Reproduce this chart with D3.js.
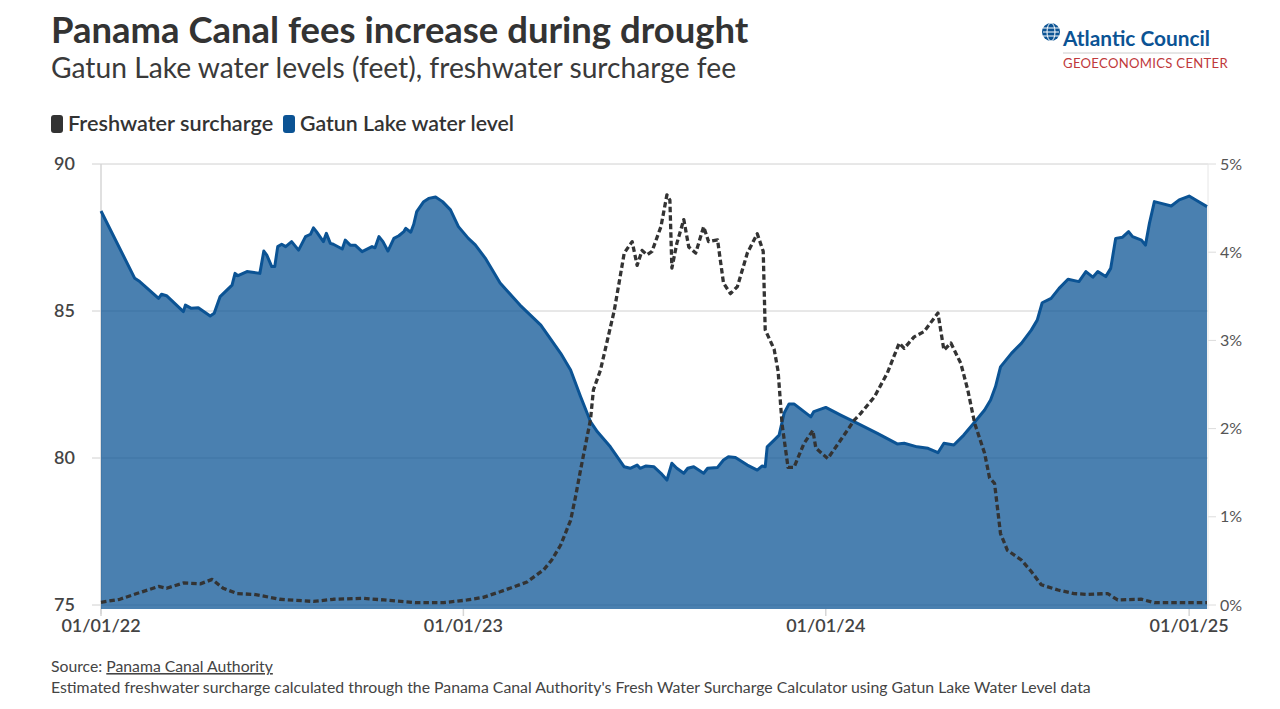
<!DOCTYPE html>
<html><head><meta charset="utf-8">
<script src="https://cdn.jsdelivr.net/npm/d3@7"></script>
<style>
body{margin:0;background:#fff;}
svg{display:block;font-family:Lato,"Open Sans",sans-serif;}
</style></head><body>
<svg id="c" width="1280" height="709"></svg>
<script>
const lakeDates = ["2022-01-01","2022-02-04","2022-02-09","2022-02-28","2022-03-03","2022-03-08","2022-03-25","2022-03-27","2022-04-02","2022-04-09","2022-04-21","2022-04-25","2022-05-01","2022-05-13","2022-05-16","2022-05-19","2022-05-28","2022-06-10","2022-06-14","2022-06-17","2022-06-22","2022-06-25","2022-06-28","2022-07-02","2022-07-06","2022-07-12","2022-07-19","2022-07-26","2022-07-31","2022-08-03","2022-08-06","2022-08-13","2022-08-16","2022-08-20","2022-08-23","2022-09-01","2022-09-04","2022-09-09","2022-09-14","2022-09-21","2022-10-01","2022-10-04","2022-10-08","2022-10-12","2022-10-17","2022-10-23","2022-10-28","2022-11-02","2022-11-04","2022-11-09","2022-11-12","2022-11-15","2022-11-22","2022-11-27","2022-12-04","2022-12-11","2022-12-19","2022-12-27","2023-01-06","2023-01-13","2023-01-23","2023-02-07","2023-02-27","2023-03-20","2023-04-09","2023-04-19","2023-04-29","2023-05-09","2023-05-16","2023-05-29","2023-06-12","2023-06-18","2023-06-25","2023-06-28","2023-07-04","2023-07-12","2023-07-19","2023-07-25","2023-07-30","2023-08-04","2023-08-11","2023-08-15","2023-08-21","2023-08-31","2023-09-04","2023-09-14","2023-09-20","2023-09-25","2023-10-02","2023-10-14","2023-10-24","2023-10-29","2023-11-01","2023-11-03","2023-11-10","2023-11-15","2023-11-20","2023-11-25","2023-11-30","2023-12-17","2023-12-20","2024-01-01","2024-01-16","2024-02-02","2024-02-22","2024-03-13","2024-03-20","2024-04-02","2024-04-13","2024-04-23","2024-04-29","2024-05-09","2024-05-19","2024-05-29","2024-06-09","2024-06-15","2024-06-20","2024-06-25","2024-07-06","2024-07-16","2024-07-26","2024-08-01","2024-08-06","2024-08-15","2024-08-23","2024-09-01","2024-09-12","2024-09-19","2024-09-26","2024-10-01","2024-10-09","2024-10-14","2024-10-19","2024-10-26","2024-11-01","2024-11-05","2024-11-14","2024-11-18","2024-11-22","2024-11-27","2024-12-04","2024-12-14","2024-12-22","2025-01-01","2025-01-09","2025-01-19"];
const lakeLevels = [88.4,86.11,86.0,85.43,85.57,85.52,84.98,85.2,85.09,85.11,84.83,84.92,85.49,85.88,86.28,86.2,86.34,86.28,87.04,86.9,86.51,86.51,87.19,87.27,87.19,87.36,87.07,87.53,87.61,87.83,87.7,87.36,87.64,87.3,87.27,87.11,87.41,87.24,87.24,87.02,87.19,87.15,87.53,87.36,87.04,87.47,87.56,87.7,87.81,87.68,87.95,88.38,88.72,88.83,88.88,88.72,88.44,87.87,87.47,87.25,86.8,85.95,85.2,84.52,83.56,82.99,82.09,81.24,80.89,80.38,79.7,79.65,79.76,79.65,79.73,79.7,79.48,79.25,79.82,79.65,79.48,79.65,79.7,79.48,79.65,79.68,79.93,80.04,80.02,79.76,79.59,79.73,79.7,80.38,80.61,80.78,81.52,81.84,81.84,81.4,81.58,81.72,81.46,81.18,80.84,80.48,80.5,80.38,80.33,80.18,80.5,80.44,80.78,81.18,81.63,81.97,82.43,83.1,83.56,83.9,84.35,84.69,85.28,85.43,85.77,86.08,86.0,86.34,86.15,86.34,86.17,86.45,87.47,87.51,87.7,87.53,87.41,87.24,87.98,88.72,88.66,88.57,88.78,88.91,88.75,88.55];

const feeDates = ["2022-01-01","2022-01-20","2022-02-06","2022-02-28","2022-03-08","2022-03-25","2022-04-11","2022-04-23","2022-05-04","2022-05-18","2022-06-04","2022-06-14","2022-06-30","2022-08-03","2022-08-23","2022-09-22","2022-10-13","2022-11-15","2022-12-12","2023-01-05","2023-01-21","2023-02-07","2023-03-06","2023-03-23","2023-03-31","2023-04-09","2023-04-19","2023-04-24","2023-04-29","2023-05-09","2023-05-12","2023-05-19","2023-06-02","2023-06-12","2023-06-20","2023-06-25","2023-06-30","2023-07-05","2023-07-10","2023-07-19","2023-07-25","2023-07-28","2023-07-30","2023-08-04","2023-08-11","2023-08-16","2023-08-23","2023-08-31","2023-09-05","2023-09-14","2023-09-20","2023-09-27","2023-10-04","2023-10-14","2023-10-24","2023-10-30","2023-11-01","2023-11-10","2023-11-14","2023-11-18","2023-11-24","2023-11-30","2023-12-10","2023-12-19","2023-12-22","2024-01-03","2024-01-16","2024-01-30","2024-02-05","2024-02-19","2024-03-03","2024-03-15","2024-03-20","2024-03-30","2024-04-09","2024-04-23","2024-04-29","2024-05-06","2024-05-16","2024-05-23","2024-05-30","2024-06-09","2024-06-14","2024-06-19","2024-06-25","2024-07-02","2024-07-16","2024-07-26","2024-08-05","2024-08-22","2024-09-07","2024-09-21","2024-10-11","2024-10-21","2024-11-14","2024-11-27","2025-01-19"];
const feeValues = [0.03,0.065,0.13,0.21,0.19,0.25,0.24,0.29,0.19,0.13,0.12,0.10,0.065,0.04,0.065,0.076,0.057,0.026,0.026,0.057,0.087,0.15,0.26,0.40,0.51,0.68,0.96,1.23,1.53,2.10,2.44,2.66,3.34,3.99,4.12,3.85,4.02,3.97,4.01,4.29,4.65,4.59,3.82,4.10,4.37,4.06,3.99,4.29,4.12,4.14,3.65,3.53,3.61,3.99,4.21,4.01,3.12,2.90,2.65,2.05,1.56,1.56,1.83,1.98,1.78,1.66,1.87,2.10,2.17,2.36,2.63,2.97,2.91,3.04,3.10,3.31,2.89,2.97,2.74,2.44,2.06,1.72,1.44,1.38,0.81,0.62,0.51,0.38,0.23,0.17,0.13,0.12,0.13,0.057,0.065,0.026,0.026];

const leftTicks = [75,80,85,90];
const rightTicks = [0,1,2,3,4,5];
const xTickDates = ["2022-01-01","2023-01-01","2024-01-01","2025-01-01"];
const xTickLabels = ["01/01/22","01/01/23","01/01/24","01/01/25"];
const legendItems = ["Freshwater surcharge","Gatun Lake water level"];

const parse = d3.timeParse("%Y-%m-%d");
const lake = lakeDates.map((d,i)=>({date:parse(d), v:lakeLevels[i]}));
const fee = feeDates.map((d,i)=>({date:parse(d), v:feeValues[i]}));

const svg = d3.select("#c");
const L=101, R=1208, T=164, B=605, AB=609;
const x = d3.scaleTime().domain([parse("2022-01-01"), parse("2025-01-20")]).range([L,R]);
const y = d3.scaleLinear().domain([75,90]).range([B,T]);
const y2 = d3.scaleLinear().domain([0,5]).range([B,T]);

const BLUE="#0b5394", DARK="#333333";

function fit(sel, w){
  const n = sel.node(); let fs = parseFloat(sel.attr("font-size"));
  for(let k=0;k<3;k++){ const cw=n.getComputedTextLength(); fs = fs*w/cw; sel.attr("font-size",fs); }
}

// gridlines
svg.append("g").selectAll("line").data(leftTicks).join("line")
  .attr("x1",L-9).attr("x2",R).attr("y1",d=>y(d)).attr("y2",d=>y(d))
  .attr("stroke","#d0d0d0").attr("stroke-width",1);
svg.append("g").selectAll("line").data(rightTicks).join("line")
  .attr("x1",R).attr("x2",R+8).attr("y1",d=>y2(d)).attr("y2",d=>y2(d))
  .attr("stroke","#dcdcdc").attr("stroke-width",1);
svg.append("line").attr("x1",L).attr("x2",L).attr("y1",T).attr("y2",AB+5).attr("stroke","#d6d6d6").attr("stroke-width",1.5);
svg.append("line").attr("x1",R).attr("x2",R).attr("y1",T).attr("y2",AB).attr("stroke","#e6e6e6").attr("stroke-width",1);

// area
const area = d3.area().x(d=>x(d.date)).y0(AB).y1(d=>y(d.v));
svg.append("path").datum(lake).attr("d",area).attr("fill",BLUE).attr("fill-opacity",0.74);
const line = d3.line().x(d=>x(d.date)).y(d=>y(d.v));
svg.append("path").datum(lake).attr("d",line).attr("fill","none").attr("stroke",BLUE).attr("stroke-width",3).attr("stroke-linejoin","round");

// x ticks
svg.append("g").selectAll("line").data(xTickDates).join("line")
  .attr("x1",d=>x(parse(d))).attr("x2",d=>x(parse(d))).attr("y1",AB).attr("y2",AB+7)
  .attr("stroke","#d6d6d6").attr("stroke-width",1.5);

// fee line
const line2 = d3.line().x(d=>x(d.date)).y(d=>y2(d.v));
svg.append("path").datum(fee).attr("d",line2).attr("fill","none").attr("stroke",DARK)
  .attr("stroke-width",3.3).attr("stroke-dasharray","5.5,3").attr("stroke-linejoin","round");

// axis labels
svg.append("g").selectAll("text").data(leftTicks).join("text")
  .attr("x",L-26).attr("y",d=>y(d)).attr("dy","0.35em").attr("text-anchor","end")
  .attr("font-size",18).attr("font-weight",600).attr("fill","#444").text(d=>d);
svg.append("g").selectAll("text").data(rightTicks).join("text")
  .attr("x",R+12).attr("y",d=>y2(d)).attr("dy","0.35em").attr("text-anchor","start")
  .attr("font-size",16).attr("fill","#555").text(d=>d+"%");
svg.append("g").selectAll("text").data(xTickDates).join("text")
  .attr("x",d=>x(parse(d))).attr("y",632).attr("text-anchor","middle")
  .attr("font-size",18).attr("font-weight",600).attr("fill","#444").text((d,i)=>xTickLabels[i]);

// title
const t1 = svg.append("text").attr("x",51).attr("y",43).attr("font-size",31).attr("font-weight",700).attr("fill","#333").text("Panama Canal fees increase during drought");
fit(t1,697);
const t2 = svg.append("text").attr("x",51).attr("y",78).attr("font-size",24).attr("fill","#3a3a3a").text("Gatun Lake water levels (feet), freshwater surcharge fee");
fit(t2,685);

// legend
const lg = [{c:DARK,x:51,w:205},{c:BLUE,x:283,w:214}];
lg.forEach((o,i)=>{
  svg.append("rect").attr("x",o.x).attr("y",115).attr("width",12).attr("height",18).attr("rx",3).attr("fill",o.c);
  const t = svg.append("text").attr("x",o.x+17).attr("y",131).attr("font-size",18).attr("font-weight",600).attr("fill","#333").text(legendItems[i]);
  fit(t,o.w);
});

// logo
const g = svg.append("g");
g.append("circle").attr("cx",1051).attr("cy",32).attr("r",9).attr("fill",BLUE);
[-4,0,4].forEach(dy=>g.append("line").attr("x1",1043).attr("x2",1059).attr("y1",32+dy).attr("y2",32+dy).attr("stroke","#fff").attr("stroke-width",1));
g.append("ellipse").attr("cx",1051).attr("cy",32).attr("rx",4).attr("ry",9).attr("fill","none").attr("stroke","#fff").attr("stroke-width",1);
const lt = g.append("text").attr("x",1063).attr("y",46).attr("font-size",19).attr("font-weight",700).attr("fill",BLUE).text("Atlantic Council");
fit(lt,147);
g.append("line").attr("x1",1063).attr("x2",1210).attr("y1",53).attr("y2",53).attr("stroke","#ccc").attr("stroke-width",1);
const lt2 = g.append("text").attr("x",1063).attr("y",68).attr("font-size",12.5).attr("fill","#c0393b").attr("letter-spacing",0.3).text("GEOECONOMICS CENTER");
fit(lt2,165);

// footer
const f1 = svg.append("text").attr("x",51).attr("y",672).attr("font-size",13).attr("fill","#444");
f1.append("tspan").text("Source: ");
f1.append("tspan").attr("text-decoration","underline").text("Panama Canal Authority");
fit(f1,222);
const f2 = svg.append("text").attr("x",51).attr("y",693).attr("font-size",13).attr("fill","#444")
  .text("Estimated freshwater surcharge calculated through the Panama Canal Authority's Fresh Water Surcharge Calculator using Gatun Lake Water Level data");
fit(f2,1040);
</script>
</body></html>
